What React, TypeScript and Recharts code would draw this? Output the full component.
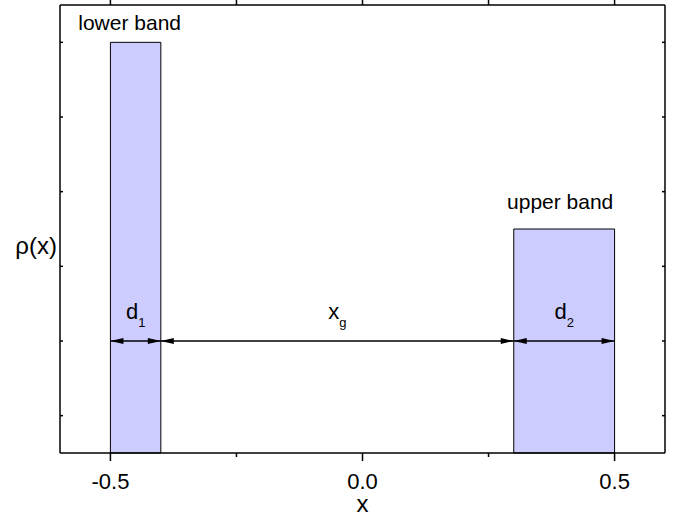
import React from 'react';
import { ComposedChart, XAxis, YAxis, ReferenceArea, ReferenceLine } from 'recharts';

// Bands: [start, end] along x and density height rho
const bandNames = ['lower band', 'upper band'];
const bandStart = [-0.5, 0.3];
const bandEnd = [-0.4, 0.5];
const bandRho = [5.5, 3.0];

// Dimension arrows drawn at a fixed rho level
const arrowLevel = 1.5;
const arrowStart = [-0.5, -0.4, 0.3];
const arrowEnd = [-0.4, 0.3, 0.5];
const arrowMain = ['d', 'x', 'd'];
const arrowSub = ['1', 'g', '2'];

// Ticks
const xMajorTicks = [-0.5, 0, 0.5];
const xAllTicks = [-0.5, -0.25, 0, 0.25, 0.5];
const yTicks = [0.5, 1.5, 2.5, 3.5, 4.5, 5.5];
const xDomain = [-0.6, 0.6];
const yDomain = [0, 6];

const data = bandStart.map((s, i) => ({ x: s, y: bandRho[i] }));

const FONT = 'Arial, "Liberation Sans", sans-serif';
const TICK_SIZE = 8;
const TICK_MARGIN = 12;

const makeArrow = (main: string, sub: string) => (props: any) => {
  const { x1, y1, x2 } = props;
  const a = Math.min(x1, x2);
  const b = Math.max(x1, x2);
  const y = y1;
  const L = 13;
  const H = 3;
  return (
    <g>
      <line x1={a} y1={y} x2={b} y2={y} stroke="#000" strokeWidth={1.5} />
      <polygon points={`${a},${y} ${a + L},${y - H} ${a + L},${y + H}`} fill="#000" />
      <polygon points={`${b},${y} ${b - L},${y - H} ${b - L},${y + H}`} fill="#000" />
      <text x={(a + b) / 2} y={y - 22} textAnchor="middle" fontFamily={FONT} fontSize={22} fill="#000">
        <tspan>{main}</tspan>
        <tspan fontSize={13} dy={8}>{sub}</tspan>
      </text>
    </g>
  );
};

const BottomTick = (props: any) => {
  const { x, y, payload } = props;
  const v = payload.value;
  const isMajor = xMajorTicks.some((t) => Math.abs(t - v) < 1e-9);
  const axisY = y - TICK_SIZE - TICK_MARGIN;
  return (
    <g>
      <line x1={x} y1={axisY} x2={x} y2={axisY + (isMajor ? TICK_SIZE : 4)} stroke="#000" strokeWidth={1.5} />
      {isMajor && (
        <text x={x} y={y} dy="0.71em" textAnchor="middle" fontFamily={FONT} fontSize={22} fill="#000">
          {v.toFixed(1)}
        </text>
      )}
    </g>
  );
};

const EmptyTick = () => <g />;

const RhoLabel = (props: any) => {
  const vb = props.viewBox || {};
  return (
    <text
      x={vb.x - 3}
      y={vb.y + vb.height / 2 + 25}
      textAnchor="end"
      fontFamily={FONT}
      fontSize={24}
      fill="#000"
    >
      ρ(x)
    </text>
  );
};

export default function App() {
  return (
    <div style={{ position: 'absolute', left: 0, top: 0, background: '#fff' }}>
      <ComposedChart
        width={681}
        height={517}
        data={data}
        margin={{ top: 4, right: 16, bottom: 0, left: 60 }}
        style={{ fontFamily: FONT }}
      >
        <XAxis
          xAxisId="main"
          type="number"
          dataKey="x"
          domain={xDomain}
          allowDataOverflow
          ticks={xAllTicks}
          interval={0}
          height={64}
          tickSize={TICK_SIZE}
          tickMargin={TICK_MARGIN}
          tick={<BottomTick />}
          tickLine={false}
          axisLine={{ stroke: '#000', strokeWidth: 1.5 }}
          label={{ value: 'x', position: 'insideBottom', offset: 5, fontSize: 24, fill: '#000', fontFamily: FONT }}
        />
        <XAxis
          xAxisId="top"
          orientation="top"
          type="number"
          dataKey="x"
          domain={xDomain}
          allowDataOverflow
          ticks={xAllTicks}
          interval={0}
          height={1}
          tick={<EmptyTick />}
          tickSize={5}
          tickLine={{ stroke: '#000', strokeWidth: 1.5 }}
          axisLine={{ stroke: '#000', strokeWidth: 1.5 }}
        />
        <YAxis
          yAxisId="left"
          type="number"
          domain={yDomain}
          allowDataOverflow
          ticks={yTicks}
          interval={0}
          width={1}
          mirror
          tick={<EmptyTick />}
          tickSize={3}
          tickLine={{ stroke: '#000', strokeWidth: 1.5 }}
          axisLine={{ stroke: '#000', strokeWidth: 1.5 }}
          label={RhoLabel}
        />
        <YAxis
          yAxisId="right"
          orientation="right"
          type="number"
          domain={yDomain}
          allowDataOverflow
          ticks={yTicks}
          interval={0}
          width={1}
          mirror
          tick={<EmptyTick />}
          tickSize={3}
          tickLine={{ stroke: '#000', strokeWidth: 1.5 }}
          axisLine={{ stroke: '#000', strokeWidth: 1.5 }}
        />
        {bandNames.map((name, i) => (
          <ReferenceArea
            key={name}
            xAxisId="main"
            yAxisId="left"
            x1={bandStart[i]}
            x2={bandEnd[i]}
            y1={0}
            y2={bandRho[i]}
            fill="#ccccff"
            fillOpacity={1}
            stroke="#000"
            strokeWidth={1}
            ifOverflow="visible"
            label={{
              value: name,
              position: 'top',
              offset: i === 0 ? 12 : 20,
              dx: i === 0 ? -6 : -4,
              fontSize: 21,
              fill: '#000',
              fontFamily: FONT,
            }}
          />
        ))}
        {arrowStart.map((s, i) => (
          <ReferenceLine
            key={`arrow-${i}`}
            xAxisId="main"
            yAxisId="left"
            segment={[
              { x: s, y: arrowLevel },
              { x: arrowEnd[i], y: arrowLevel },
            ]}
            ifOverflow="visible"
            shape={makeArrow(arrowMain[i], arrowSub[i])}
          />
        ))}
      </ComposedChart>
    </div>
  );
}
